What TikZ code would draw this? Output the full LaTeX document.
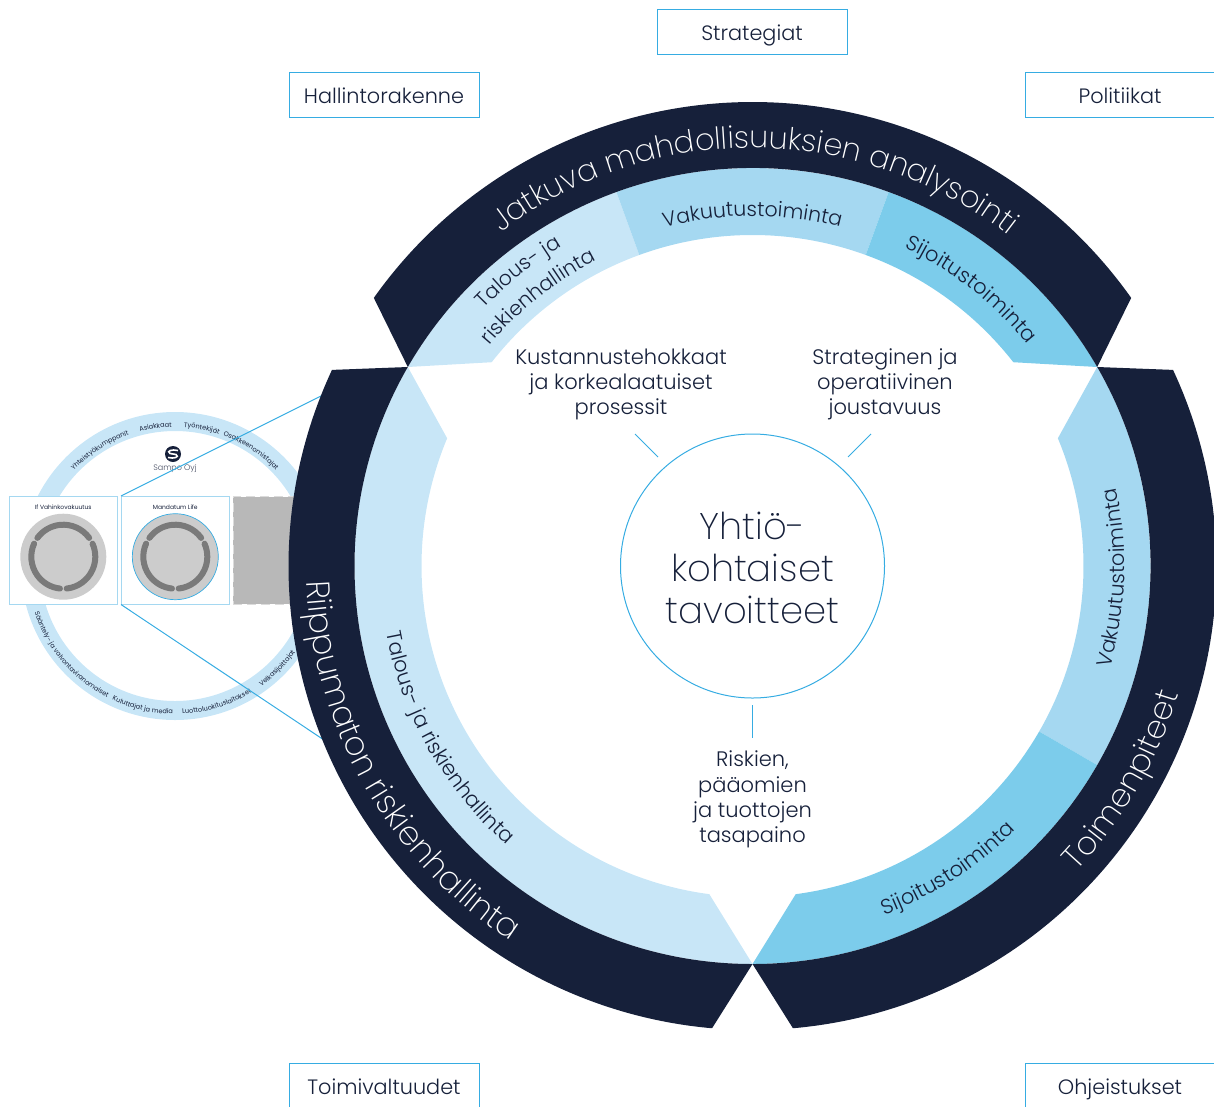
\documentclass[tikz,border=0pt]{standalone}
\usepackage{fontspec}
\setmainfont{Poppins Light}
\newfontfamily\thinf{Poppins ExtraLight}
\newfontfamily\regf{Poppins}
\usetikzlibrary{decorations.text}
\definecolor{navy}{HTML}{16203A}
\definecolor{pale}{HTML}{C8E6F7}
\definecolor{midb}{HTML}{A5D8F1}
\definecolor{strong}{HTML}{7CCCEB}
\definecolor{lineb}{HTML}{36ACE2}
\definecolor{minigrey}{HTML}{CCCCCC}
\definecolor{ringgrey}{HTML}{7A7A7A}
% radius, mid angle, half span, cw/ccw sign (+1: ccw, -1: cw), font cmd, text
\newcommand{\arctext}[6]{%
  \path[decorate,decoration={text along path,text align=center,text={|#5|#6}}]
    ({#2-(#4)*#3}:#1) arc[start angle={#2-(#4)*#3},end angle={#2+(#4)*#3},radius=#1];}
\newcommand{\fs}[2]{\fontsize{#1}{#2}\selectfont}
\tikzset{
  x=1pt,y=1pt,
  topbox/.style={draw=lineb,line width=1pt,fill=white,minimum width=190pt,minimum height=45pt,inner sep=0pt,font=\fs{20.8}{24},text=navy,text height=16pt,text depth=0pt},
  body/.style={align=center,font=\fs{21}{25.2},text=navy,inner sep=0pt},
  tick/.style={draw=lineb,line width=1pt},
  mini/.style={draw=midb,line width=1pt,fill=white,minimum width=107.5pt,minimum height=107.5pt,inner sep=0pt},
  minidisc/.style={circle,fill=minigrey,minimum size=86pt,inner sep=0pt},
  miniarc/.style={draw=ringgrey,line width=6pt,line cap=round},
  minilabel/.style={font=\regf\fs{6}{7},text=navy,inner sep=0pt},
}
\begin{document}
\begin{tikzpicture}
\useasboundingbox (0,-1106) rectangle (1214,0);
\clip (0,-1106) rectangle (1214,0);
% small stakeholder ring
\begin{scope}[shift={(175,-566)}]
  \fill[pale,even odd rule] (0,0) circle[radius=154] (0,0) circle[radius=135];
  \def\rf{\regf\fs{6.6}{8}\color{navy}}
  \arctext{139}{123}{60}{-1}{\rf}{Yhteistyökumppanit}
  \arctext{139}{98}{40}{-1}{\rf}{Asiakkaat}
  \arctext{139}{79}{40}{-1}{\rf}{Työntekijät}
  \arctext{139}{56.6}{50}{-1}{\rf}{Osakkeenomistajat}
  \arctext{148}{220.6}{60}{1}{\rf}{Sääntely- ja valvontaviranomaiset}
  \arctext{148}{257}{40}{1}{\rf}{Kuluttajat ja media}
  \arctext{148}{287}{40}{1}{\rf}{Luottoluokituslaitokset}
  \arctext{148}{315}{30}{1}{\rf}{Velkasijoittajat}
\end{scope}
\node[circle,fill=navy,minimum size=16pt,inner sep=0pt] (logo) at (173,-454) {};
\draw[white,line width=1.6pt] (178,-450.5) .. controls (172,-449) and (166,-451) .. (170,-453.5) -- (176,-454.5) .. controls (180,-457) and (174,-459) .. (168,-457.5);
\node[font=\fs{8}{9},text=navy!80,inner sep=0pt] (sampo) at (175,-469) {Sampo Oyj};
\node[fill=black!28,draw=black!14,dash pattern=on 9pt off 5pt,line width=1pt,minimum width=90pt,minimum height=107.5pt,inner sep=0pt] (grey) at (278,-550.25) {};
\node[mini] (ifbox) at (63.25,-550.25) {};
\node[mini] (mandbox) at (175.25,-550.25) {};
\node[minilabel] (iflabel) at (63.3,-507) {If Vahinkovakuutus};
\node[minilabel] (mandlabel) at (175.3,-507) {Mandatum Life};
\node[minidisc] (ifdisc) at (63.3,-556.7) {};
\node[minidisc,draw=lineb,line width=0.7pt] (manddisc) at (175.3,-556.7) {};
\foreach \cx in {63.3,175.3}{
  \begin{scope}[shift={(\cx,-556.7)}]
    \draw[miniarc] (36:32) arc[start angle=36,end angle=144,radius=32];
    \draw[miniarc] (156:32) arc[start angle=156,end angle=264,radius=32];
    \draw[miniarc] (276:32) arc[start angle=276,end angle=384,radius=32];
  \end{scope}}
\coordinate (zoomtop) at (345,-384);
\coordinate (zoombot) at (345,-754);
\draw[tick] (mandbox.north west) -- (zoomtop);
\draw[tick] (mandbox.south west) -- (zoombot);
% main wheel
\begin{scope}[shift={(752.5,-566)}]
  % light band
  \fill[pale] (150:398) arc[start angle=150,end angle=110,radius=398] -- (110:331) arc[start angle=110,end angle=142,radius=331] -- cycle;
  \fill[midb] (110:398) arc[start angle=110,end angle=70,radius=398] -- (70:331) arc[start angle=70,end angle=110,radius=331] -- cycle;
  \fill[strong] (70:398) arc[start angle=70,end angle=30,radius=398] -- (38:331) arc[start angle=38,end angle=70,radius=331] -- cycle;
  \fill[pale] (150:398) arc[start angle=150,end angle=270,radius=398] -- (262.5:331) arc[start angle=262.5,end angle=157.3,radius=331] -- cycle;
  \fill[midb] (30:398) arc[start angle=30,end angle=-30,radius=398] -- (-30:331) arc[start angle=-30,end angle=22.7,radius=331] -- cycle;
  \fill[strong] (-30:398) arc[start angle=-30,end angle=-90,radius=398] -- (277.5:331) arc[start angle=277.5,end angle=330,radius=331] -- cycle;
  % dark rim
  \fill[navy] (35.3:464) arc[start angle=35.3,end angle=144.7,radius=464] -- (150:398) arc[start angle=150,end angle=30,radius=398] -- cycle;
  \fill[navy] (155:464) arc[start angle=155,end angle=265,radius=464] -- (270:398) arc[start angle=270,end angle=150,radius=398] -- cycle;
  \fill[navy] (275:464) arc[start angle=275,end angle=385,radius=464] -- (30:398) arc[start angle=30,end angle=-90,radius=398] -- cycle;
  % rim labels
  \def\rim{\thinf\fs{30.4}{40}\color{white}}
  \def\rimb{\thinf\fs{33}{40}\color{white}}
  \def\rimc{\thinf\fs{32}{40}\color{white}}
  \arctext{418}{89.6}{80}{-1}{\rim}{Jatkuva mahdollisuuksien analysointi}
  \arctext{446}{209.6}{55}{1}{\rimb}{Riippumaton riskienhallinta}
  \arctext{445}{-30}{55}{1}{\rimc}{Toimenpiteet}
  % band labels
  \def\bnd{\fs{20.4}{25}\color{navy}}
  \def\bndb{\fs{20.9}{25}\color{navy}}
  \arctext{350}{90}{50}{-1}{\bnd}{Vakuutustoiminta}
  \arctext{353}{51.7}{40}{-1}{\bndb}{Sijoitustoiminta}
  \arctext{372}{128.5}{30}{-1}{\bnd}{Talous- ja}
  \arctext{343}{128.5}{30}{-1}{\bnd}{riskienhallinta}
  \arctext{372}{-1.9}{40}{1}{\bndb}{Vakuutustoiminta}
  \arctext{373}{-57.2}{40}{1}{\bndb}{Sijoitustoiminta}
  \arctext{372}{209.5}{50}{1}{\bndb}{Talous- ja riskienhallinta}
\end{scope}
% centre
\node[circle,draw=lineb,line width=1pt,minimum size=264pt,inner sep=0pt] (hub) at (752.5,-566) {};
\node[align=center,inner sep=0pt,text=navy,font=\thinf\fs{37}{42}] (goal) at (752.5,-568) {Yhtiö-\\kohtaiset\\tavoitteet};
\node[body] (n1) at (621,-384.5) {Kustannustehokkaat\\ja korkealaatuiset\\prosessit};
\node[body] (n2) at (885,-384.5) {Strateginen ja\\operatiivinen\\joustavuus};
\node[body] (n3) at (752.5,-799.5) {Riskien,\\pääomien\\ja tuottojen\\tasapaino};
\coordinate (t1a) at (635,-434); \coordinate (t1b) at (658,-457);
\coordinate (t2a) at (871,-434); \coordinate (t2b) at (848,-457);
\coordinate (t3a) at (752.5,-705); \coordinate (t3b) at (752.5,-738);
\draw[tick] (t1a) -- (t1b);
\draw[tick] (t2a) -- (t2b);
\draw[tick] (t3a) -- (t3b);
% boxes
\node[topbox] (strat) at (752,-32) {Strategiat};
\node[topbox] (hall) at (384,-95) {Hallintorakenne};
\node[topbox] (pol) at (1120,-95) {Politiikat};
\node[topbox] (toim) at (384,-1086) {Toimivaltuudet};
\node[topbox] (ohj) at (1120,-1086) {Ohjeistukset};
\end{tikzpicture}
\end{document}
